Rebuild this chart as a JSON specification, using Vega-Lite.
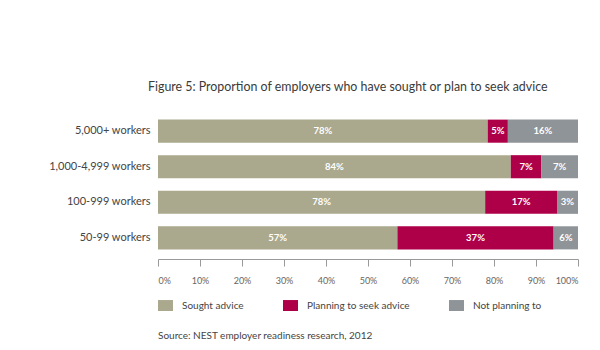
{
  "$schema": "https://vega.github.io/schema/vega-lite/v6.json",
  "width": 420,
  "height": 149,
  "padding": {"left": 48, "top": 80, "right": 5, "bottom": 5},
  "background": "white",
  "title": {
    "text": "Figure 5: Proportion of employers who have sought or plan to seek advice",
    "anchor": "start",
    "frame": "group",
    "dx": -10,
    "offset": 17,
    "font": "Lato",
    "fontSize": 12.4,
    "fontWeight": "normal",
    "color": "#3a3a3a"
  },
  "data": {
    "values": [
      {"size": "5,000+ workers", "cat": "Sought advice", "k": 1, "v": 0.785, "lbl": "78%"},
      {"size": "5,000+ workers", "cat": "Planning to seek advice", "k": 2, "v": 0.048, "lbl": "5%"},
      {"size": "5,000+ workers", "cat": "Not planning to", "k": 3, "v": 0.167, "lbl": "16%"},
      {"size": "1,000-4,999 workers", "cat": "Sought advice", "k": 1, "v": 0.84, "lbl": "84%"},
      {"size": "1,000-4,999 workers", "cat": "Planning to seek advice", "k": 2, "v": 0.073, "lbl": "7%"},
      {"size": "1,000-4,999 workers", "cat": "Not planning to", "k": 3, "v": 0.087, "lbl": "7%"},
      {"size": "100-999 workers", "cat": "Sought advice", "k": 1, "v": 0.779, "lbl": "78%"},
      {"size": "100-999 workers", "cat": "Planning to seek advice", "k": 2, "v": 0.171, "lbl": "17%"},
      {"size": "100-999 workers", "cat": "Not planning to", "k": 3, "v": 0.05, "lbl": "3%"},
      {"size": "50-99 workers", "cat": "Sought advice", "k": 1, "v": 0.57, "lbl": "57%"},
      {"size": "50-99 workers", "cat": "Planning to seek advice", "k": 2, "v": 0.372, "lbl": "37%"},
      {"size": "50-99 workers", "cat": "Not planning to", "k": 3, "v": 0.058, "lbl": "6%"}
    ]
  },
  "encoding": {
    "y": {
      "field": "size",
      "type": "nominal",
      "sort": ["5,000+ workers", "1,000-4,999 workers", "100-999 workers", "50-99 workers"],
      "scale": {"paddingInner": 0.35, "paddingOuter": 0.27},
      "axis": {
        "title": null,
        "domain": false,
        "ticks": false,
        "labelPadding": 8,
        "labelFont": "Lato",
        "labelFontSize": 11,
        "labelColor": "#444444"
      }
    }
  },
  "layer": [
    {
      "mark": {"type": "bar"},
      "encoding": {
        "x": {
          "field": "v",
          "type": "quantitative",
          "stack": "zero",
          "scale": {"domain": [0, 1], "nice": false},
          "axis": {
            "title": null,
            "format": ".0%",
            "values": [0, 0.1, 0.2, 0.3, 0.4, 0.5, 0.6, 0.7, 0.8, 0.9, 1],
            "grid": false,
            "domainColor": "#999999",
            "tickColor": "#999999",
            "tickSize": 7,
            "labelPadding": 10,
            "labelFont": "Lato",
            "labelFontSize": 9,
            "labelColor": "#666666"
          }
        },
        "color": {
          "field": "cat",
          "type": "nominal",
          "scale": {
            "domain": ["Sought advice", "Planning to seek advice", "Not planning to"],
            "range": ["#aaa88d", "#ae0049", "#8f9498"]
          },
          "legend": {
            "orient": "bottom",
            "direction": "horizontal",
            "offset": 13,
            "padding": 0,
            "symbolType": "M-1,-0.73H1V0.73H-1Z",
            "symbolSize": 225,
            "symbolStrokeWidth": 0,
            "symbolOpacity": 1,
            "labelFont": "Lato",
            "labelFontSize": 10,
            "labelColor": "#444444",
            "labelOffset": 9,
            "columnPadding": 39,
            "title": "Source: NEST employer readiness research, 2012",
            "titleOrient": "bottom",
            "titleAnchor": "start",
            "titleFont": "Lato",
            "titleFontSize": 10,
            "titleFontWeight": "normal",
            "titleColor": "#444444",
            "titlePadding": 20,
            "titleLimit": 500
          }
        },
        "order": {"field": "k", "type": "quantitative"}
      }
    },
    {
      "mark": {"type": "text", "color": "white", "fontWeight": "bold", "font": "Lato", "fontSize": 9.5, "baseline": "middle"},
      "encoding": {
        "x": {"field": "v", "type": "quantitative", "stack": "zero", "bandPosition": 0.5},
        "detail": {"field": "cat"},
        "order": {"field": "k", "type": "quantitative"},
        "text": {"field": "lbl"}
      }
    }
  ],
  "config": {"view": {"stroke": null}}
}
